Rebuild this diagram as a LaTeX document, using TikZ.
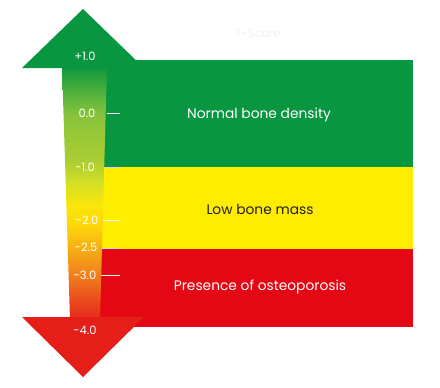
\documentclass[tikz,border=0pt]{standalone}
\usepackage{fontspec}
\setmainfont{Poppins}
\definecolor{boxgreen}{RGB}{8,150,64}
\definecolor{boxyellow}{RGB}{255,237,0}
\definecolor{boxred}{RGB}{227,8,20}
\definecolor{headred}{RGB}{229,30,24}
\definecolor{txtdark}{RGB}{35,31,32}
\definecolor{s1}{RGB}{230,40,30}
\definecolor{s2}{RGB}{234,75,27}
\definecolor{s3}{RGB}{240,128,28}
\definecolor{s4}{RGB}{247,175,20}
\definecolor{s5}{RGB}{253,215,10}
\definecolor{s6}{RGB}{250,230,10}
\definecolor{s7}{RGB}{215,225,35}
\definecolor{s8}{RGB}{170,205,50}
\definecolor{s9}{RGB}{135,196,60}
\definecolor{s10}{RGB}{60,170,60}
\definecolor{s11}{RGB}{12,150,64}
\pgfdeclareverticalshading{shaftshade}{100bp}{color(0bp)=(s1); color(25bp)=(s1); color(28.9bp)=(s2); color(33.9bp)=(s3); color(39.2bp)=(s4); color(43.7bp)=(s5); color(47.6bp)=(s6); color(51.6bp)=(s7); color(56.5bp)=(s8); color(65.4bp)=(s9); color(71.3bp)=(s10); color(75bp)=(s11); color(100bp)=(s11)}
\tikzset{
  scalelbl/.style={text=white, font=\fontsize{11.5}{13}\selectfont, inner sep=0pt},
  boxlbl/.style={font=\fontsize{13.8}{16}\selectfont, inner sep=0pt},
  tickline/.style={draw=white, line width=0.8pt},
}
\begin{document}
\begin{tikzpicture}[x=1pt,y=-1pt]
\useasboundingbox (0,0) rectangle (440,388);
% boxes
\fill[boxgreen] (95,60) rectangle (413,167);
\fill[boxyellow] (95,167) rectangle (413,249);
\fill[boxred] (95,249) rectangle (413,327);
% shaft
\shade[shading=shaftshade] (62,66) -- (107,66) -- (100,320) -- (70,320) -- cycle;
% heads
\fill[boxgreen] (22,68) -- (83,9) -- (144,68) -- cycle;
\fill[headred] (22,317) -- (83,377) -- (144,317) -- cycle;
% ticks
\coordinate (t0a) at (106.5,113); \coordinate (t0b) at (120,113);
\coordinate (t1a) at (105,167); \coordinate (t1b) at (120,167);
\coordinate (t2a) at (103,220); \coordinate (t2b) at (120,220);
\coordinate (t25a) at (102,248.5); \coordinate (t25b) at (120,248.5);
\coordinate (t3a) at (101,275); \coordinate (t3b) at (120,275);
\draw[tickline] (t0a) -- (t0b);
\draw[tickline, draw=white!85!black] (t1a) -- (t1b);
\draw[tickline, draw=white!85!yellow] (t2a) -- (t2b);
\draw[tickline, draw=white!85!black] (t25a) -- (t25b);
\draw[tickline] (t3a) -- (t3b);
% scale labels
\node[scalelbl] (p1) at (85,56) {+1.0};
\node[scalelbl] (z0) at (87,113) {0.0};
\node[scalelbl] (m1) at (85,167) {-1.0};
\node[scalelbl] (m2) at (87,220) {-2.0};
\node[scalelbl] (m25) at (86,247) {-2.5};
\node[scalelbl] (m3) at (85,275) {-3.0};
\node[scalelbl] (m4) at (85,330) {-4.0};
% box labels
\node[boxlbl, text=white] (normal) at (259,115) {Normal bone density};
\node[boxlbl, text=txtdark] (low) at (260,209) {Low bone mass};
\node[boxlbl, text=white] (osteo) at (260,287) {Presence of osteoporosis};
% faint title
\node[scalelbl, text=white!94!black] (title) at (258,33) {T-Score};
\end{tikzpicture}
\end{document}
